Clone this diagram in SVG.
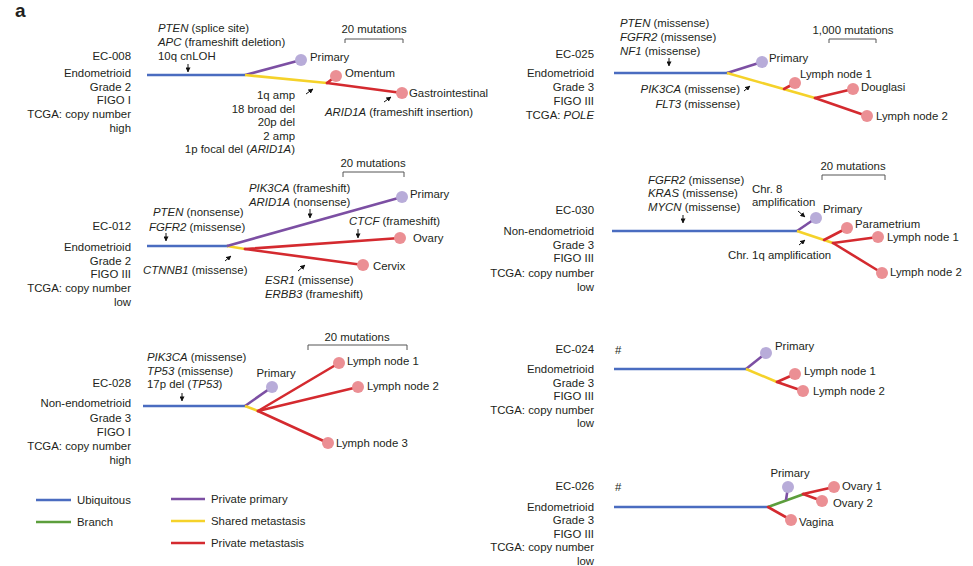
<svg xmlns="http://www.w3.org/2000/svg" width="973" height="566" viewBox="0 0 973 566">
<defs>
<style>
.t{font-family:"Liberation Sans",Arial,sans-serif;font-size:11.4px;fill:#231f20}
.r{text-anchor:end}
.m{text-anchor:middle}
.i{font-style:italic}
.b{stroke:#4a6cc0;stroke-width:2.6;fill:none}
.p{stroke:#7c4fa3;stroke-width:2.6;fill:none}
.y{stroke:#f5d22a;stroke-width:2.6;fill:none}
.rd{stroke:#d42a2f;stroke-width:2.6;fill:none;stroke-linecap:round}
.g{stroke:#5c9e3c;stroke-width:2.6;fill:none}
.nr{fill:#eb8f94}
.np{fill:#b8acd9}
.ar{stroke:#111;stroke-width:1;fill:none;marker-end:url(#ah)}
.sb{stroke:#555;stroke-width:1;fill:none}
</style>
<marker id="ah" viewBox="0 0 6 6" refX="5.5" refY="3" markerWidth="5" markerHeight="5" markerUnits="userSpaceOnUse" orient="auto"><path d="M0,0 L6,3 L0,6 z" fill="#111"/></marker>
</defs>
<rect width="973" height="566" fill="#fff"/>
<text x="15" y="17" style="font-family:'Liberation Sans',Arial,sans-serif;font-size:19px;font-weight:bold;fill:#231f20">a</text>

<g id="connectors">
<!-- EC-008 -->
<line class="b" x1="147" y1="75" x2="245" y2="75"/>
<line class="p" x1="245" y1="75" x2="301" y2="60"/>
<line class="y" x1="245" y1="75" x2="327" y2="83"/>
<line class="rd" x1="327" y1="83" x2="336" y2="76"/>
<line class="rd" x1="327" y1="83" x2="402" y2="93"/>
<!-- EC-012 -->
<line class="b" x1="147" y1="246" x2="228" y2="246"/>
<line class="y" x1="227" y1="246" x2="245" y2="249"/>
<line class="p" x1="227" y1="246" x2="402" y2="197"/>
<line class="rd" x1="245" y1="249" x2="400" y2="238"/>
<line class="rd" x1="245" y1="249" x2="363" y2="265"/>
<!-- EC-028 -->
<line class="b" x1="143" y1="406" x2="246" y2="406"/>
<line class="p" x1="245" y1="406" x2="272" y2="387"/>
<line class="y" x1="245" y1="406" x2="258" y2="411"/>
<line class="rd" x1="258" y1="411" x2="339" y2="363"/>
<line class="rd" x1="258" y1="411" x2="358" y2="387"/>
<line class="rd" x1="258" y1="411" x2="328" y2="443"/>
<!-- EC-025 -->
<line class="b" x1="614" y1="73" x2="728" y2="73"/>
<line class="p" x1="727" y1="73" x2="762" y2="62"/>
<line class="y" x1="727" y1="73" x2="815" y2="98"/>
<line class="rd" x1="784" y1="89" x2="795" y2="83"/>
<line class="rd" x1="815" y1="98" x2="853" y2="89"/>
<line class="rd" x1="815" y1="98" x2="867" y2="116"/>
<!-- EC-030 -->
<line class="b" x1="612" y1="231" x2="798" y2="231"/>
<line class="p" x1="797" y1="231" x2="816" y2="218"/>
<line class="y" x1="797" y1="231" x2="833" y2="243"/>
<line class="rd" x1="824" y1="240" x2="847" y2="228"/>
<line class="rd" x1="833" y1="243" x2="878" y2="237"/>
<line class="rd" x1="833" y1="243" x2="882" y2="273"/>
<!-- EC-024 -->
<line class="b" x1="614" y1="369" x2="747" y2="369"/>
<line class="p" x1="746" y1="369" x2="766" y2="353"/>
<line class="y" x1="746" y1="369" x2="777" y2="382"/>
<line class="rd" x1="777" y1="382" x2="795" y2="374"/>
<line class="rd" x1="777" y1="382" x2="803" y2="391"/>
<!-- EC-026 -->
<line class="b" x1="614" y1="507" x2="769" y2="507"/>
<line class="g" x1="768" y1="507" x2="804" y2="494"/>
<line class="p" x1="786" y1="500" x2="788" y2="487"/>
<line class="rd" x1="803" y1="494" x2="834" y2="487"/>
<line class="rd" x1="803" y1="494" x2="822" y2="501"/>
<line class="rd" x1="768" y1="507" x2="791" y2="520"/>
</g>

<g id="ec008">
<text class="t r" x="131" y="60">EC-008</text>
<text class="t r" x="131" y="77">Endometrioid</text>
<text class="t r" x="131" y="90.5">Grade 2</text>
<text class="t r" x="131" y="104">FIGO I</text>
<text class="t r" x="131" y="118">TCGA: copy number</text>
<text class="t r" x="131" y="131.5">high</text>
<text class="t" x="158" y="32"><tspan class="i">PTEN</tspan> (splice site)</text>
<text class="t" x="158" y="46"><tspan class="i">APC</tspan> (frameshift deletion)</text>
<text class="t" x="158" y="60">10q cnLOH</text>
<line class="ar" x1="188" y1="64" x2="188" y2="72"/>
<text class="t r" x="295" y="99">1q amp</text>
<text class="t r" x="295" y="112.5">18 broad del</text>
<text class="t r" x="295" y="126">20p del</text>
<text class="t r" x="295" y="139.5">2 amp</text>
<text class="t r" x="295" y="153">1p focal del (<tspan class="i">ARID1A</tspan>)</text>
<line class="ar" x1="306" y1="94" x2="313" y2="89"/>
<text class="t" x="325" y="116"><tspan class="i">ARID1A</tspan> (frameshift insertion)</text>
<line class="ar" x1="384" y1="102" x2="391" y2="97"/>
<text class="t m" x="374" y="33">20 mutations</text>
<path class="sb" d="M345,43 V39 H403 V43"/>
<circle class="np" cx="301" cy="60" r="6"/>
<circle class="nr" cx="336" cy="76" r="6"/>
<circle class="nr" cx="402" cy="93" r="6"/>
<text class="t" x="310" y="61">Primary</text>
<text class="t" x="345" y="77">Omentum</text>
<text class="t" x="409" y="97">Gastrointestinal</text>
</g>

<g id="ec012">
<text class="t r" x="131" y="230">EC-012</text>
<text class="t r" x="131" y="251">Endometrioid</text>
<text class="t r" x="131" y="264.5">Grade 2</text>
<text class="t r" x="131" y="278">FIGO III</text>
<text class="t r" x="131" y="291.5">TCGA: copy number</text>
<text class="t r" x="131" y="305.5">low</text>
<text class="t" x="153" y="216"><tspan class="i">PTEN</tspan> (nonsense)</text>
<text class="t" x="149" y="231"><tspan class="i">FGFR2</tspan> (missense)</text>
<line class="ar" x1="166" y1="233" x2="166" y2="241"/>
<text class="t" x="143" y="274"><tspan class="i">CTNNB1</tspan> (missense)</text>
<line class="ar" x1="225" y1="261" x2="231" y2="256"/>
<text class="t" x="249" y="192"><tspan class="i">PIK3CA</tspan> (frameshift)</text>
<text class="t" x="249" y="206"><tspan class="i">ARID1A</tspan> (nonsense)</text>
<line class="ar" x1="310" y1="209" x2="310" y2="218"/>
<text class="t" x="349" y="225"><tspan class="i">CTCF</tspan> (frameshift)</text>
<line class="ar" x1="358" y1="229" x2="358" y2="238"/>
<line class="ar" x1="298" y1="271" x2="305" y2="265"/>
<text class="t" x="265" y="284"><tspan class="i">ESR1</tspan> (missense)</text>
<text class="t" x="265" y="298"><tspan class="i">ERBB3</tspan> (frameshift)</text>
<text class="t m" x="373" y="167">20 mutations</text>
<path class="sb" d="M343,177 V172 H404 V177"/>
<circle class="np" cx="402" cy="197" r="6"/>
<circle class="nr" cx="400" cy="238" r="6"/>
<circle class="nr" cx="363" cy="265" r="6"/>
<text class="t" x="410" y="198">Primary</text>
<text class="t" x="413" y="242">Ovary</text>
<text class="t" x="373" y="270">Cervix</text>
</g>

<g id="ec028">
<text class="t r" x="131" y="387">EC-028</text>
<text class="t r" x="131" y="407">Non-endometrioid</text>
<text class="t r" x="131" y="421.5">Grade 3</text>
<text class="t r" x="131" y="435.5">FIGO I</text>
<text class="t r" x="131" y="449.5">TCGA: copy number</text>
<text class="t r" x="131" y="463.5">high</text>
<text class="t" x="147" y="361"><tspan class="i">PIK3CA</tspan> (missense)</text>
<text class="t" x="147" y="375"><tspan class="i">TP53</tspan> (missense)</text>
<text class="t" x="147" y="388">17p del (<tspan class="i">TP53</tspan>)</text>
<line class="ar" x1="182" y1="393" x2="182" y2="401"/>
<text class="t m" x="357" y="341">20 mutations</text>
<path class="sb" d="M308,350 V345 H407 V350"/>
<circle class="np" cx="272" cy="387" r="6"/>
<circle class="nr" cx="339" cy="363" r="6"/>
<circle class="nr" cx="358" cy="387" r="6"/>
<circle class="nr" cx="328" cy="443" r="6"/>
<text class="t m" x="276" y="377">Primary</text>
<text class="t" x="347" y="365">Lymph node 1</text>
<text class="t" x="367" y="390">Lymph node 2</text>
<text class="t" x="336" y="447">Lymph node 3</text>
</g>

<g id="legend">
<line class="b" x1="36" y1="500" x2="71" y2="500"/>
<text class="t" x="77" y="504">Ubiquitous</text>
<line class="g" x1="36" y1="522" x2="71" y2="522"/>
<text class="t" x="77" y="526">Branch</text>
<line class="p" x1="171" y1="499" x2="205" y2="499"/>
<text class="t" x="211" y="503">Private primary</text>
<line class="y" x1="171" y1="521" x2="205" y2="521"/>
<text class="t" x="211" y="525">Shared metastasis</text>
<line class="rd" x1="171" y1="543" x2="205" y2="543" style="stroke-linecap:butt"/>
<text class="t" x="211" y="547">Private metastasis</text>
</g>

<g id="ec025">
<text class="t r" x="594" y="58">EC-025</text>
<text class="t r" x="594" y="77">Endometrioid</text>
<text class="t r" x="594" y="91">Grade 3</text>
<text class="t r" x="594" y="104.5">FIGO III</text>
<text class="t r" x="594" y="118.5">TCGA: <tspan class="i">POLE</tspan></text>
<text class="t" x="620" y="27"><tspan class="i">PTEN</tspan> (missense)</text>
<text class="t" x="620" y="41"><tspan class="i">FGFR2</tspan> (missense)</text>
<text class="t" x="620" y="55"><tspan class="i">NF1</tspan> (missense)</text>
<line class="ar" x1="669" y1="58" x2="669" y2="66"/>
<text class="t r" x="740" y="93"><tspan class="i">PIK3CA</tspan> (missense)</text>
<text class="t r" x="740" y="108"><tspan class="i">FLT3</tspan> (missense)</text>
<line class="ar" x1="744" y1="91" x2="750" y2="86"/>
<text class="t m" x="853" y="34">1,000 mutations</text>
<path class="sb" d="M829,43 V39 H876 V43"/>
<circle class="np" cx="762" cy="62" r="6"/>
<circle class="nr" cx="795" cy="83" r="6"/>
<circle class="nr" cx="853" cy="89" r="6"/>
<circle class="nr" cx="867" cy="116" r="6"/>
<text class="t" x="769" y="62">Primary</text>
<text class="t" x="800" y="78">Lymph node 1</text>
<text class="t" x="861" y="91">Douglasi</text>
<text class="t" x="876" y="120">Lymph node 2</text>
</g>

<g id="ec030">
<text class="t r" x="594" y="214">EC-030</text>
<text class="t r" x="594" y="235">Non-endometrioid</text>
<text class="t r" x="594" y="248.5">Grade 3</text>
<text class="t r" x="594" y="262">FIGO III</text>
<text class="t r" x="594" y="276.5">TCGA: copy number</text>
<text class="t r" x="594" y="290.5">low</text>
<text class="t" x="648" y="184"><tspan class="i">FGFR2</tspan> (missense)</text>
<text class="t" x="648" y="197"><tspan class="i">KRAS</tspan> (missense)</text>
<text class="t" x="648" y="211"><tspan class="i">MYCN</tspan> (missense)</text>
<line class="ar" x1="683" y1="215" x2="683" y2="223"/>
<text class="t" x="752" y="193">Chr. 8</text>
<text class="t" x="752" y="206">amplification</text>
<line class="ar" x1="798" y1="211" x2="805" y2="217"/>
<line class="ar" x1="799" y1="245" x2="805" y2="240"/>
<text class="t" x="728" y="259">Chr. 1q amplification</text>
<text class="t m" x="853" y="170">20 mutations</text>
<path class="sb" d="M822,180 V175 H885 V180"/>
<circle class="np" cx="816" cy="218" r="6"/>
<circle class="nr" cx="847" cy="228" r="6"/>
<circle class="nr" cx="878" cy="237" r="6"/>
<circle class="nr" cx="882" cy="273" r="6"/>
<text class="t" x="823" y="213">Primary</text>
<text class="t" x="855" y="228">Parametrium</text>
<text class="t" x="887" y="241">Lymph node 1</text>
<text class="t" x="890" y="276">Lymph node 2</text>
</g>

<g id="ec024">
<text class="t r" x="594" y="353">EC-024</text>
<text class="t" x="615" y="354">#</text>
<text class="t r" x="594" y="373">Endometrioid</text>
<text class="t r" x="594" y="386.5">Grade 3</text>
<text class="t r" x="594" y="400">FIGO III</text>
<text class="t r" x="594" y="413.5">TCGA: copy number</text>
<text class="t r" x="594" y="427">low</text>
<circle class="np" cx="766" cy="353" r="6"/>
<circle class="nr" cx="795" cy="374" r="6"/>
<circle class="nr" cx="803" cy="391" r="6"/>
<text class="t" x="775" y="350">Primary</text>
<text class="t" x="804" y="375">Lymph node 1</text>
<text class="t" x="813" y="395">Lymph node 2</text>
</g>

<g id="ec026">
<text class="t r" x="594" y="490">EC-026</text>
<text class="t" x="615" y="491">#</text>
<text class="t r" x="594" y="511">Endometrioid</text>
<text class="t r" x="594" y="524">Grade 3</text>
<text class="t r" x="594" y="537.5">FIGO III</text>
<text class="t r" x="594" y="551">TCGA: copy number</text>
<text class="t r" x="594" y="564.5">low</text>
<circle class="np" cx="788" cy="487" r="6"/>
<circle class="nr" cx="834" cy="487" r="6"/>
<circle class="nr" cx="822" cy="501" r="6"/>
<circle class="nr" cx="791" cy="520" r="6"/>
<text class="t m" x="790" y="477">Primary</text>
<text class="t" x="842" y="490">Ovary 1</text>
<text class="t" x="833" y="507">Ovary 2</text>
<text class="t" x="799" y="526">Vagina</text>
</g>
</svg>
